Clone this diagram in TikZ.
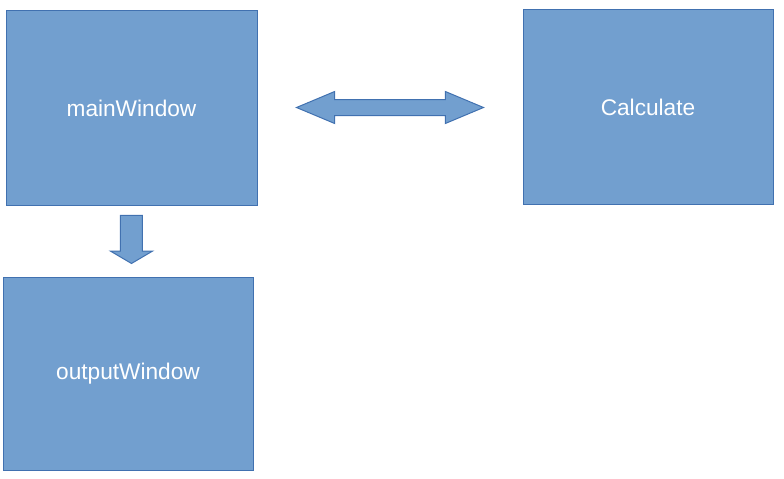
\documentclass[tikz,border=0pt]{standalone}
\usepackage{fontspec}
\setmainfont{Liberation Sans}
\usetikzlibrary{calc, positioning}
\usetikzlibrary{shapes.arrows}

\definecolor{boxfill}{RGB}{114,159,207}
\definecolor{boxline}{RGB}{65,113,176}

\begin{document}
\begin{tikzpicture}[x=0.75pt, y=-0.75pt,
  win/.style={draw=boxline, fill=boxfill, line width=0.75pt, text=white,
    font=\fontsize{17}{20}\selectfont},
  blockarrow/.style={draw=boxline, fill=boxfill, line width=0.75pt}]
\useasboundingbox (0,0) rectangle (784,478);

\node[win, minimum width=251*0.75pt, minimum height=194*0.75pt] (main) at (131.5,108) {mainWindow};
\node[win, minimum width=250*0.75pt, minimum height=194*0.75pt] (calc) at (648,107) {Calculate};
\node[win, minimum width=250*0.75pt, minimum height=193*0.75pt] (out) at (128,374) {outputWindow};

% links between windows
\node[blockarrow, double arrow, inner sep=7.5*0.75pt,
  minimum height=187*0.75pt, double arrow head extend=8*0.75pt,
  double arrow tip angle=45.5] (link) at ($(main.east)!0.5!(calc.west)$) {};
\node[blockarrow, single arrow, shape border rotate=270, inner sep=10.5*0.75pt,
  minimum height=48*0.75pt, single arrow head extend=10*0.75pt,
  single arrow tip angle=119] (down) at ($(main.south)!0.43!(out.north)+(1.5,0)$) {};
\end{tikzpicture}
\end{document}
